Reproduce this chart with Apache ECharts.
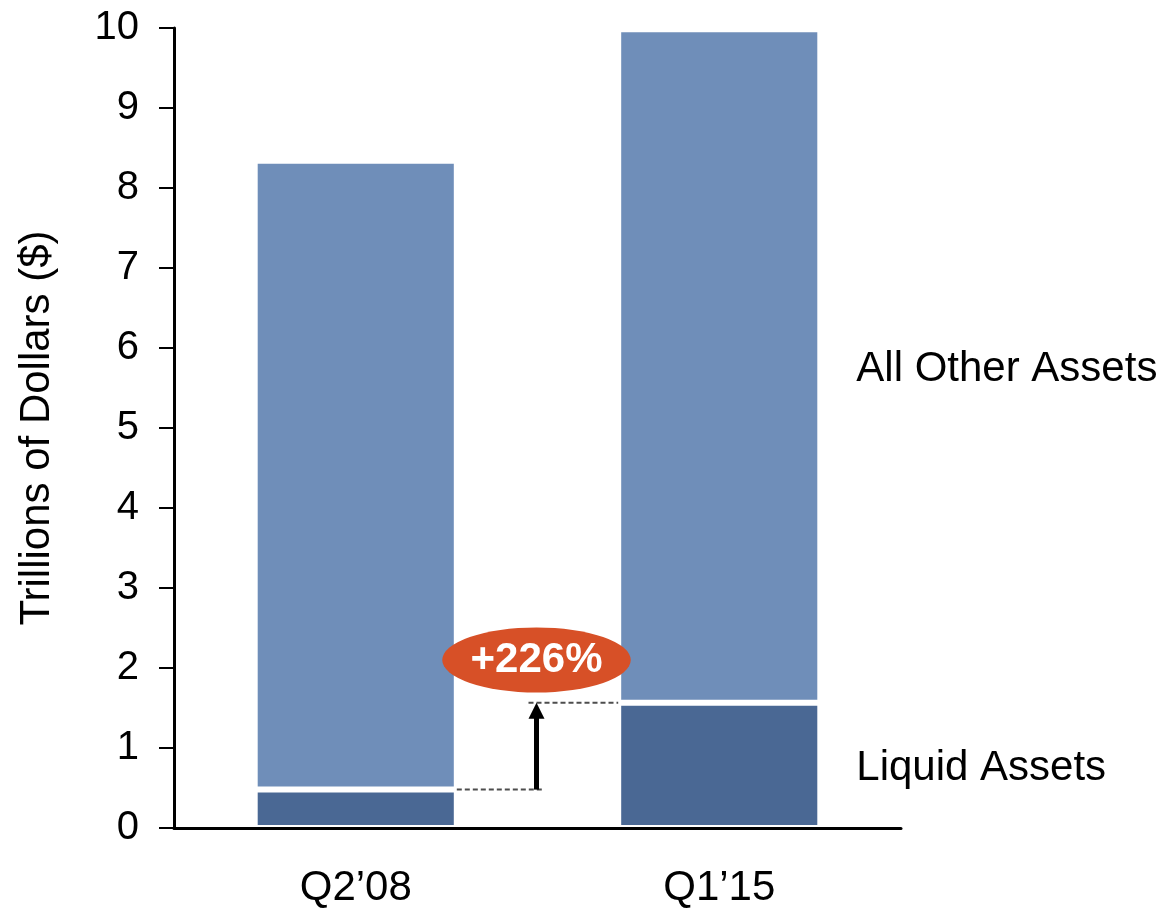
<!DOCTYPE html>
<html>
<head>
<meta charset="utf-8">
<script src="https://cdn.jsdelivr.net/npm/echarts@6/dist/echarts.min.js"></script>
<style>
  html, body { margin: 0; padding: 0; background: #fff; }
  #chart { width: 1161px; height: 911px; }
</style>
</head>
<body>
<div id="chart"></div>
<script>
// Balance sheet composition, trillions of dollars
const categories = ['Q2\u201908', 'Q1\u201915'];
const liquidAssets = [0.48, 1.565];
const otherAssets = [7.86, 8.42];
const seriesNames = ['Liquid Assets', 'All Other Assets'];
const growthText = '+226%';
const growthBadgeValue = 2.1;

const FONT = '"Liberation Sans", Arial, sans-serif';
const BAR_WIDTH_RATIO = 0.556;

const chart = echarts.init(document.getElementById('chart'), null, { renderer: 'canvas' });

// Only the last bar carries the series name as a right-hand label
function withEndLabel(values) {
  return values.map((v, i) => i === values.length - 1
    ? { value: v, label: { show: true } }
    : v);
}

const segmentStyle = (color) => ({
  color: color,
  borderColor: '#ffffff',
  borderWidth: 3
});

const endLabel = {
  show: false,
  position: 'right',
  distance: 36,
  offset: [0, 3],
  formatter: (p) => p.seriesName,
  color: '#000',
  fontFamily: FONT,
  fontSize: 42
};

chart.setOption({
  animation: false,
  backgroundColor: '#ffffff',
  grid: { left: 174, top: 28, width: 727, height: 800, containLabel: false },
  xAxis: {
    type: 'category',
    data: categories,
    z: 10,
    axisLine: { lineStyle: { color: '#000', width: 3 } },
    axisTick: { show: false },
    axisLabel: { color: '#000', fontFamily: FONT, fontSize: 42, margin: 39 }
  },
  yAxis: {
    type: 'value',
    min: 0,
    max: 10,
    interval: 1,
    z: 10,
    name: 'Trillions of Dollars ($)',
    nameLocation: 'middle',
    nameRotate: 90,
    nameGap: 116,
    nameTextStyle: { color: '#000', fontFamily: FONT, fontSize: 42 },
    axisLine: { show: true, lineStyle: { color: '#000', width: 3 } },
    axisTick: { show: true, length: 15, lineStyle: { color: '#000', width: 2 } },
    axisLabel: { color: '#000', fontFamily: FONT, fontSize: 40, margin: 35 },
    splitLine: { show: false }
  },
  series: [
    {
      name: seriesNames[0],
      type: 'bar',
      stack: 'assets',
      barWidth: (BAR_WIDTH_RATIO * 100) + '%',
      data: withEndLabel(liquidAssets),
      itemStyle: segmentStyle('#4A6894'),
      label: endLabel
    },
    {
      name: seriesNames[1],
      type: 'bar',
      stack: 'assets',
      data: withEndLabel(otherAssets),
      itemStyle: segmentStyle('#6F8EB9'),
      label: endLabel
    }
  ]
});

// Growth annotation: dashed guides, arrow and badge placed through the axes
function drawAnnotation() {
  const c0 = chart.convertToPixel({ xAxisIndex: 0 }, categories[0]);
  const c1 = chart.convertToPixel({ xAxisIndex: 0 }, categories[1]);
  const yLow = chart.convertToPixel({ yAxisIndex: 0 }, liquidAssets[0]);
  const yHigh = chart.convertToPixel({ yAxisIndex: 0 }, liquidAssets[1]);
  const yBadge = chart.convertToPixel({ yAxisIndex: 0 }, growthBadgeValue);
  const half = (c1 - c0) * BAR_WIDTH_RATIO / 2;
  const ax = (c0 + c1) / 2 - 1;
  const dash = { stroke: '#4d4d4d', lineWidth: 2, lineDash: [5, 3] };

  chart.setOption({
    graphic: [
      { type: 'line', z: 20, shape: { x1: c0 + half, y1: yLow, x2: ax + 7, y2: yLow }, style: dash },
      { type: 'line', z: 20, shape: { x1: ax - 8, y1: yHigh, x2: c1 - half, y2: yHigh }, style: dash },
      { type: 'line', z: 21, shape: { x1: ax, y1: yLow, x2: ax, y2: yHigh + 12 }, style: { stroke: '#000', lineWidth: 5 } },
      { type: 'polygon', z: 21, shape: { points: [[ax, yHigh], [ax - 8, yHigh + 16], [ax + 8, yHigh + 16]] }, style: { fill: '#000' } },
      { type: 'circle', z: 22, x: ax, y: yBadge, scaleX: 2.9, shape: { cx: 0, cy: 0, r: 32.5 }, style: { fill: '#D75027' } },
      { type: 'text', z: 23, x: ax, y: yBadge, style: { text: growthText, fill: '#ffffff', font: 'bold 42px ' + FONT, textAlign: 'center', textVerticalAlign: 'middle' } }
    ]
  });
}
drawAnnotation();
</script>
</body>
</html>
